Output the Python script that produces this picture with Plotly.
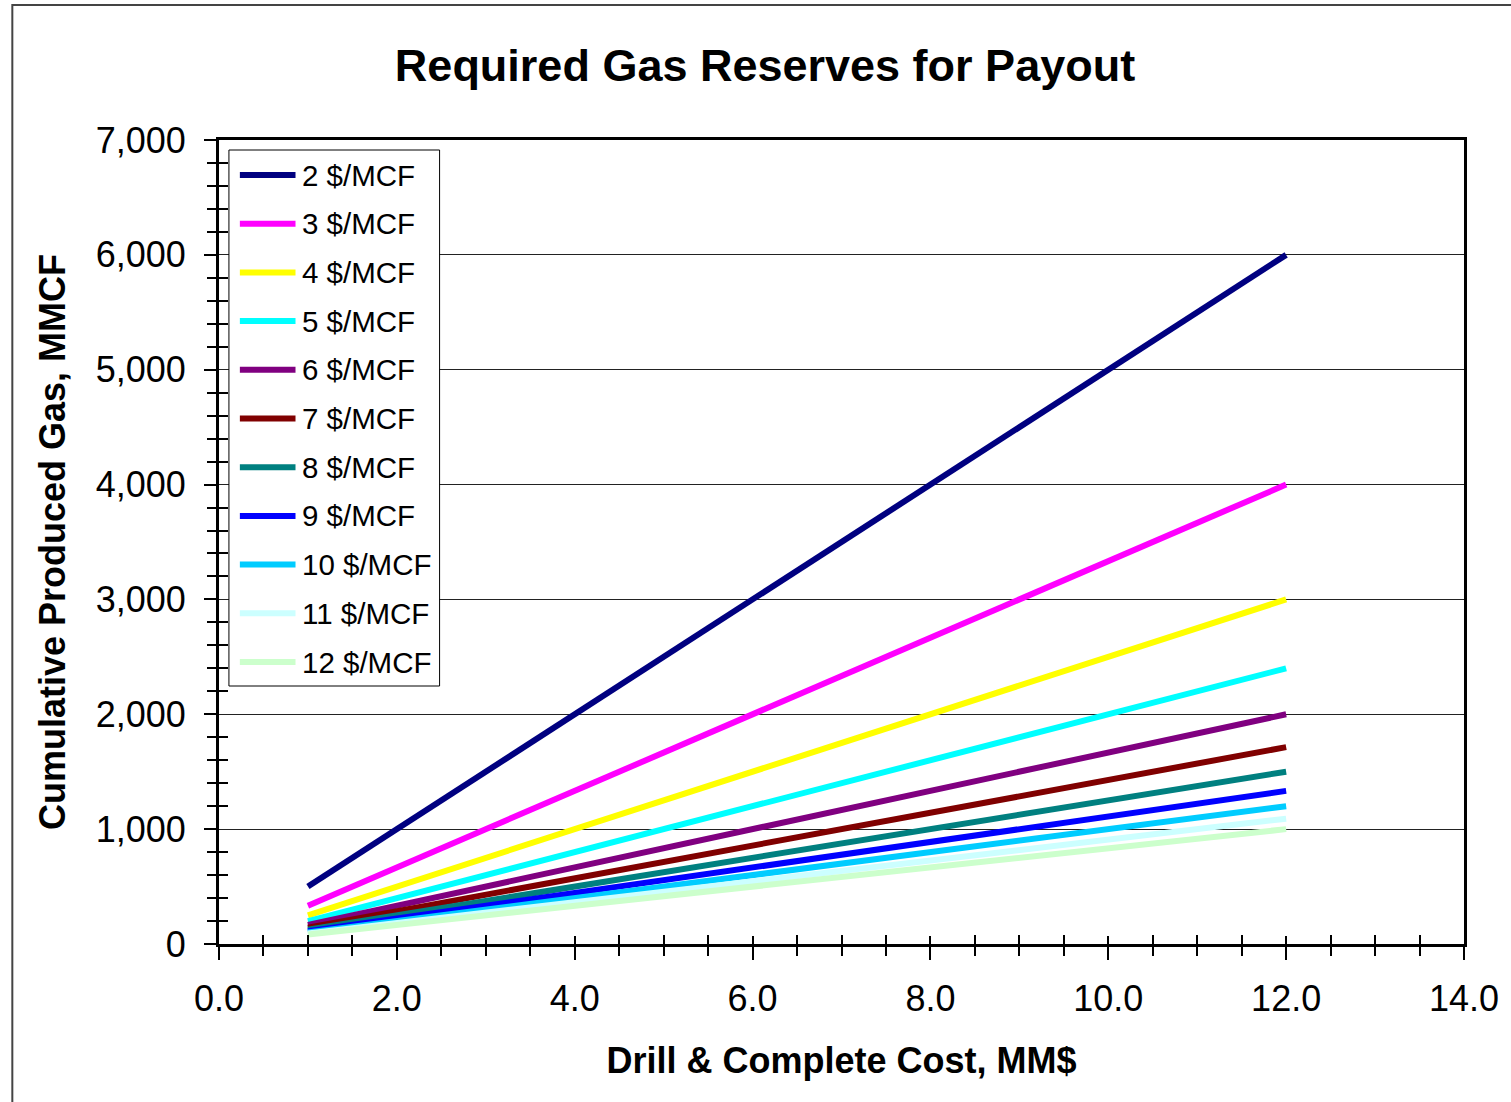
import plotly.graph_objects as go

# drill & complete cost, MM$
cost = [1.0, 1.5, 2.0, 2.5, 3.0, 3.5, 4.0, 4.5, 5.0, 5.5, 6.0, 6.5,
        7.0, 7.5, 8.0, 8.5, 9.0, 9.5, 10.0, 10.5, 11.0, 11.5, 12.0]

# cumulative produced gas needed for payout, MMCF, one list per gas price
gas_2 = [500, 750, 1000, 1250, 1500, 1750, 2000, 2250, 2500, 2750, 3000, 3250,
         3500, 3750, 4000, 4250, 4500, 4750, 5000, 5250, 5500, 5750, 6000]
gas_3 = [333, 500, 667, 833, 1000, 1167, 1333, 1500, 1667, 1833, 2000, 2167,
         2333, 2500, 2667, 2833, 3000, 3167, 3333, 3500, 3667, 3833, 4000]
gas_4 = [250, 375, 500, 625, 750, 875, 1000, 1125, 1250, 1375, 1500, 1625,
         1750, 1875, 2000, 2125, 2250, 2375, 2500, 2625, 2750, 2875, 3000]
gas_5 = [200, 300, 400, 500, 600, 700, 800, 900, 1000, 1100, 1200, 1300,
         1400, 1500, 1600, 1700, 1800, 1900, 2000, 2100, 2200, 2300, 2400]
gas_6 = [167, 250, 333, 417, 500, 583, 667, 750, 833, 917, 1000, 1083,
         1167, 1250, 1333, 1417, 1500, 1583, 1667, 1750, 1833, 1917, 2000]
gas_7 = [143, 214, 286, 357, 429, 500, 571, 643, 714, 786, 857, 929,
         1000, 1071, 1143, 1214, 1286, 1357, 1429, 1500, 1571, 1643, 1714]
gas_8 = [125, 188, 250, 313, 375, 438, 500, 563, 625, 688, 750, 813,
         875, 938, 1000, 1063, 1125, 1188, 1250, 1313, 1375, 1438, 1500]
gas_9 = [111, 167, 222, 278, 333, 389, 444, 500, 556, 611, 667, 722,
         778, 833, 889, 944, 1000, 1056, 1111, 1167, 1222, 1278, 1333]
gas_10 = [100, 150, 200, 250, 300, 350, 400, 450, 500, 550, 600, 650,
          700, 750, 800, 850, 900, 950, 1000, 1050, 1100, 1150, 1200]
gas_11 = [91, 136, 182, 227, 273, 318, 364, 409, 455, 500, 545, 591,
          636, 682, 727, 773, 818, 864, 909, 955, 1000, 1045, 1091]
gas_12 = [83, 125, 167, 208, 250, 292, 333, 375, 417, 458, 500, 542,
          583, 625, 667, 708, 750, 792, 833, 875, 917, 958, 1000]

names = ["2 $/MCF", "3 $/MCF", "4 $/MCF", "5 $/MCF", "6 $/MCF", "7 $/MCF",
         "8 $/MCF", "9 $/MCF", "10 $/MCF", "11 $/MCF", "12 $/MCF"]
series = [gas_2, gas_3, gas_4, gas_5, gas_6, gas_7,
          gas_8, gas_9, gas_10, gas_11, gas_12]
colors = ["#000080", "#FF00FF", "#FFFF00", "#00FFFF", "#800080", "#800000",
          "#008080", "#0000FF", "#00CCFF", "#CCFFFF", "#CCFFCC"]

FONT = "Liberation Sans, Arial, sans-serif"
W, H = 1511, 1102
L, R, T, B = 219, 39, 140, 158
PW, PH = W - L - R, H - T - B


def px(x):
    # page pixel x -> paper coordinate
    return (x - L) / PW


def py(y):
    # page pixel y -> paper coordinate
    return (H - B - y) / PH


fig = go.Figure()
for name, vals, col in zip(names, series, colors):
    fig.add_trace(go.Scatter(x=cost, y=vals, name=name, mode="lines",
                             line=dict(color=col, width=6),
                             showlegend=False))

# outer chart border (left and top edges visible)
fig.add_shape(type="rect", xref="paper", yref="paper",
              x0=px(11), x1=px(1540), y0=py(5), y1=py(1130),
              line=dict(color="#444444", width=2), layer="below")

# hand-drawn legend box
fig.add_shape(type="rect", xref="paper", yref="paper",
              x0=px(229), x1=px(441), y0=py(150), y1=py(686),
              fillcolor="white", line=dict(color="black", width=1),
              layer="above")
for i, (name, col) in enumerate(zip(names, colors)):
    yc = 175 + i * 48.7
    fig.add_shape(type="line", xref="paper", yref="paper",
                  x0=px(240), x1=px(296), y0=py(yc), y1=py(yc),
                  line=dict(color=col, width=6), layer="above")
    fig.add_annotation(x=px(301), y=py(yc), xref="paper", yref="paper",
                       text=name, showarrow=False, xanchor="left",
                       yanchor="middle",
                       font=dict(family=FONT, size=29.5, color="black"))

axis_common = dict(showline=True, linecolor="black", linewidth=3,
                   mirror=False, zeroline=False)

fig.update_layout(
    width=W, height=H,
    margin=dict(l=L, r=R, t=T, b=B),
    paper_bgcolor="white", plot_bgcolor="white",
    font=dict(family=FONT, color="black"),
    title=dict(text="<b>Required Gas Reserves for Payout</b>",
               x=765 / W, xref="container", xanchor="center",
               y=1 - 65 / H, yref="container", yanchor="middle",
               font=dict(size=45, family=FONT, color="black")),
    xaxis=dict(range=[0, 14], dtick=2, tickformat=".1f",
               ticks="outside", ticklen=13, tickwidth=1.5, tickcolor="black",
               minor=dict(dtick=0.5, ticks="outside", ticklen=9,
                          tickwidth=1.5, tickcolor="black"),
               showgrid=False,
               tickfont=dict(size=36), ticklabelstandoff=8,
               title=dict(text="<b>Drill & Complete Cost, MM$</b>",
                          font=dict(size=36), standoff=30),
               **axis_common),
    yaxis=dict(range=[0, 7000], dtick=1000, tickformat=",d",
               ticks="outside", ticklen=12, tickwidth=1.5, tickcolor="black",
               minor=dict(dtick=200, ticks="outside", ticklen=9,
                          tickwidth=1.5, tickcolor="black"),
               showgrid=True, gridcolor="#222222", gridwidth=1,
               tickfont=dict(size=36), ticklabelstandoff=11,
               title=dict(text="<b>Cumulative Produced Gas, MMCF</b>",
                          font=dict(size=36), standoff=20),
               **axis_common),
    # overlay axes: inward half of the crossing ticks plus the top/right frame
    xaxis2=dict(overlaying="x", matches="x", anchor="y2", side="top",
                showticklabels=False, ticks="", showgrid=False,
                showline=True, linecolor="black", linewidth=3,
                zeroline=False),
    yaxis2=dict(overlaying="y", matches="y", anchor="x2", side="right",
                showticklabels=False, ticks="", showgrid=False,
                showline=True, linecolor="black", linewidth=3,
                zeroline=False),
    xaxis3=dict(overlaying="x", matches="x", anchor="y", side="bottom",
                showticklabels=False, ticks="inside", ticklen=8,
                tickwidth=1.5, tickcolor="black", dtick=2,
                minor=dict(dtick=0.5, ticks="inside", ticklen=9,
                           tickwidth=1.5, tickcolor="black"),
                showgrid=False, showline=False, zeroline=False),
    yaxis3=dict(overlaying="y", matches="y", anchor="x", side="left",
                showticklabels=False, ticks="", showgrid=False,
                minor=dict(dtick=200, ticks="inside", ticklen=9,
                           tickwidth=1.5, tickcolor="black"),
                showline=False, zeroline=False),
)

# empty traces so the overlay axes get drawn
fig.add_trace(go.Scatter(x=[], y=[], xaxis="x2", yaxis="y2",
                         showlegend=False, hoverinfo="skip"))
fig.add_trace(go.Scatter(x=[], y=[], xaxis="x3", yaxis="y3",
                         showlegend=False, hoverinfo="skip"))

# drop the default body margin so the figure fills the window exactly
fig.write_html("out.html",
               config={"displayModeBar": False},
               post_script="document.body.style.margin='0';"
                           "document.body.style.overflow='hidden';")
